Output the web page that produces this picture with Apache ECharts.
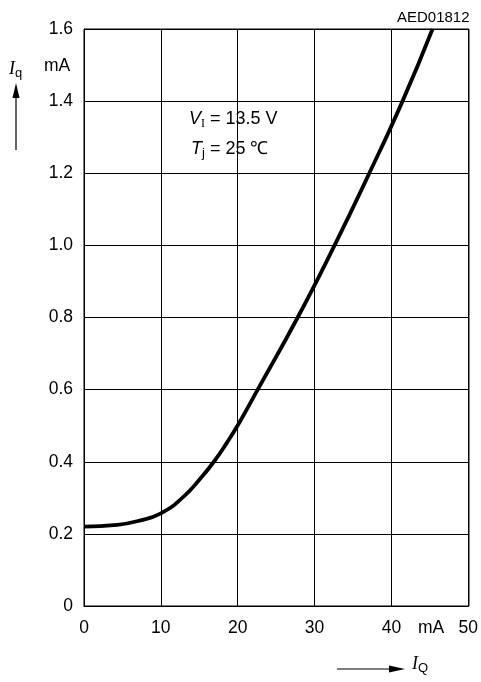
<!DOCTYPE html>
<html><head><meta charset="utf-8">
<script src="https://cdn.jsdelivr.net/npm/echarts@6/dist/echarts.min.js"></script>
<style>html,body{margin:0;padding:0;background:#fff}#c{width:481px;height:682px}</style>
</head><body><div id="c"></div>
<script>
const outputCurrent = [0, 4.3, 6.9, 10, 13, 15.2, 16.9, 18.6, 20.2, 22.6, 27.8, 32.6, 36.9, 41.45, 45.35];
const quiescentCurrent = [0.22, 0.225, 0.235, 0.257, 0.304, 0.355, 0.40, 0.453, 0.508, 0.60, 0.80, 1.0, 1.19, 1.4, 1.6];
const xTicks = [0, 10, 20, 30, 40, 50];
const yTicks = [0, 0.2, 0.4, 0.6, 0.8, 1.0, 1.2, 1.4, 1.6];

const chart = echarts.init(document.getElementById('c'), null, {renderer: 'canvas'});
const font = 'Liberation Sans, Arial, sans-serif';
const pts = outputCurrent.map((x, i) => [x, quiescentCurrent[i]]);
chart.setOption({
  animation: false,
  backgroundColor: '#fff',
  grid: {left: 84, right: 12, top: 29, bottom: 76, containLabel: false, show: false},
  xAxis: {
    type: 'value', min: xTicks[0], max: xTicks[xTicks.length - 1], interval: 10,
    axisLine: {show: true, lineStyle: {color: '#000', width: 1}},
    axisTick: {show: false},
    axisLabel: {color: '#000', fontSize: 17.5, fontFamily: font, margin: 13},
    splitLine: {show: true, lineStyle: {color: '#000', width: 1}}
  },
  yAxis: {
    type: 'value', min: yTicks[0], max: yTicks[yTicks.length - 1], interval: 0.2,
    axisLine: {show: true, lineStyle: {color: '#000', width: 1}},
    axisTick: {show: false},
    axisLabel: {color: '#000', fontSize: 17.5, fontFamily: font, margin: 11,
      formatter: v => v === 0 ? '0' : v.toFixed(1)},
    splitLine: {show: true, lineStyle: {color: '#000', width: 1}}
  },
  series: [{
    type: 'line', data: pts, smooth: 0.5, showSymbol: false,
    lineStyle: {color: '#000', width: 3.8}
  }],
  graphic: [
    {type: 'rect', shape: {x: 84, y: 29, width: 385, height: 577}, style: {fill: 'none', stroke: '#000', lineWidth: 1}, z: 0},
    {type: 'text', left: 397, top: 10, style: {text: 'AED01812', fontSize: 15, fontFamily: font, fill: '#000'}},
    {type: 'text', left: 44, top: 57, style: {text: 'mA', fontSize: 17.5, fontFamily: font, fill: '#000'}},
    {type: 'text', left: 418, top: 619, style: {text: 'mA', fontSize: 17.5, fontFamily: font, fill: '#000'}},
    {type: 'text', left: 9, top: 60, style: {
      rich: {i: {fontSize: 18, fontStyle: 'italic', fontFamily: 'Liberation Serif, Times New Roman, serif', fill: '#000'},
             s: {fontSize: 13, fontFamily: font, fill: '#000', padding: [8, 0, 0, 0]}},
      text: '{i|I}{s|q}'}},
    {type: 'line', shape: {x1: 16, y1: 150, x2: 16, y2: 94}, style: {stroke: '#000', lineWidth: 1.2}},
    {type: 'polygon', shape: {points: [[16, 83], [12.5, 98], [19.5, 98]]}, style: {fill: '#000'}},
    {type: 'line', shape: {x1: 337, y1: 669, x2: 393, y2: 669}, style: {stroke: '#000', lineWidth: 1.2}},
    {type: 'polygon', shape: {points: [[405, 669], [389, 665.5], [389, 672.5]]}, style: {fill: '#000'}},
    {type: 'text', left: 412, top: 655, style: {
      rich: {i: {fontSize: 18, fontStyle: 'italic', fontFamily: 'Liberation Serif, Times New Roman, serif', fill: '#000'},
             s: {fontSize: 13, fontFamily: font, fill: '#000', padding: [8, 0, 0, 0]}},
      text: '{i|I}{s|Q}'}},
    {type: 'text', left: 189, top: 110, style: {
      rich: {i: {fontSize: 18, fontStyle: 'italic', fontFamily: font, fill: '#000'},
             s: {fontSize: 12, fontFamily: 'Liberation Serif, serif', fill: '#000', padding: [9, 0, 0, 0]},
             n: {fontSize: 18, fontFamily: font, fill: '#000'}},
      text: '{i|V}{s|I}{n| = 13.5 V}'}},
    {type: 'text', left: 191, top: 140, style: {
      rich: {i: {fontSize: 18, fontStyle: 'italic', fontFamily: font, fill: '#000'},
             s: {fontSize: 13, fontFamily: font, fill: '#000', padding: [9, 0, 0, 0]},
             n: {fontSize: 18, fontFamily: font, fill: '#000'}},
      text: '{i|T}{s|j}{n| = 25 \u2103}'}}
  ]
});
</script></body></html>
